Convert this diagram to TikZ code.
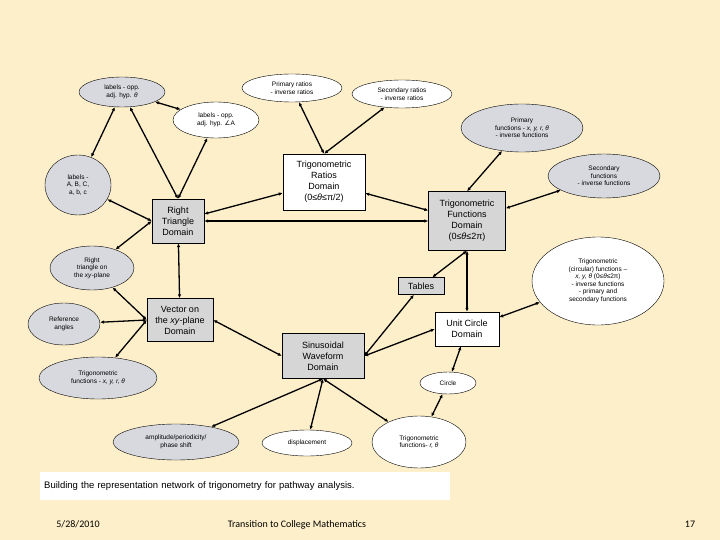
\documentclass[tikz,border=0pt]{standalone}
\usepackage{fontspec}
\setmainfont{Liberation Sans}
\newfontfamily\dvfont{DejaVu Sans}
\newfontfamily\footfont{Carlito}
\usetikzlibrary{shapes.geometric,arrows.meta}
\definecolor{bg}{HTML}{FDEFC9}
\definecolor{boxgray}{HTML}{D6D6D6}
\definecolor{ellgray}{HTML}{D8D9DE}
\begin{document}
\begin{tikzpicture}[x=1pt,y=-1pt,
  el/.style={ellipse,draw,fill=white,inner sep=0pt,align=center,font=\fontsize{6.5}{7.5}\selectfont},
  gel/.style={el,fill=ellgray},
  bx/.style={rectangle,draw,fill=white,inner sep=0pt,align=center,font=\fontsize{9}{11}\selectfont},
  gbx/.style={bx,fill=boxgray},
  foot/.style={anchor=base,font=\footfont\fontsize{10}{11}\selectfont},
  con/.style={line width=1.3pt,{Latex[length=4pt,width=3.5pt]}-{Latex[length=4pt,width=3.5pt]}}]
\fill[bg] (0,0) rectangle (720,540);
\useasboundingbox (0,0) rectangle (720,540);
% ellipses
\node[gel,minimum width=86,minimum height=30] (lt) at (122,92) {labels - opp.\\adj. hyp. \textit{θ}};
\node[el,minimum width=100,minimum height=28] (pr) at (292,88) {Primary ratios\\- inverse ratios};
\node[el,minimum width=100,minimum height=28] (sr) at (402,94) {Secondary ratios\\- inverse ratios};
\node[el,minimum width=86,minimum height=36] (la) at (216,120) {labels - opp.\\adj. hyp. {\dvfont ∠}A};
\node[gel,minimum width=122,minimum height=48] (pf) at (522,128) {Primary\\functions - \textit{x, y, r, θ}\\- inverse functions};
\node[gel,minimum width=112,minimum height=44] (sf) at (604,176) {Secondary\\functions\\- inverse functions};
\node[gel,minimum width=66,minimum height=60] (lb) at (78,185) {labels -\\A, B, C,\\a, b, c};
\node[gel,minimum width=84,minimum height=44] (rx) at (92,268) {Right\\triangle on\\the \textit{xy}-plane};
\node[el,minimum width=132,minimum height=88] (tc) at (598,281) {Trigonometric\\(circular) functions --\\\textit{x, y, θ} (0≤\textit{θ}≤2π)\\- inverse functions\\- primary and\\secondary functions};
\node[gel,minimum width=72,minimum height=42] (ra) at (64,324) {Reference\\angles};
\node[gel,minimum width=118,minimum height=42] (tx) at (98,378) {Trigonometric\\functions - \textit{x, y, r, θ}};
\node[el,minimum width=56,minimum height=22] (ci) at (448,383) {Circle};
\node[gel,minimum width=126,minimum height=36] (am) at (176,442) {amplitude/periodicity/\\phase shift};
\node[el,minimum width=90,minimum height=26] (di) at (307,443) {displacement};
\node[el,minimum width=94,minimum height=52] (tr) at (419,442) {Trigonometric\\functions- \textit{r, θ}};
% boxes
\node[bx,minimum width=82,minimum height=56] (trd) at (324,182) {Trigonometric\\Ratios\\Domain\\(0≤\textit{θ}≤π/2)};
\node[gbx,minimum width=52,minimum height=44] (rt) at (178,221) {Right\\Triangle\\Domain};
\node[gbx,minimum width=77,minimum height=59] (tfd) at (467,221) {Trigonometric\\Functions\\Domain\\(0≤\textit{θ}≤2π)};
\node[gbx,minimum width=46,minimum height=17] (tb) at (421,286) {Tables};
\node[gbx,minimum width=66,minimum height=43] (vx) at (180,320) {Vector on\\the \textit{xy}-plane\\Domain};
\node[bx,minimum width=64,minimum height=34] (uc) at (467,329) {Unit Circle\\Domain};
\node[gbx,minimum width=82,minimum height=45] (sw) at (323,356) {Sinusoidal\\Waveform\\Domain};
% connectors
\draw[con] (lt) -- (la);
\draw[con] (lt) -- (rt.north);
\draw[con] (lt) -- (lb);
\draw[con] (la) -- (rt.north);
\draw[con] (lb) -- (rt.west);
\draw[con] (rt) -- (trd);
\draw[con] (rt.east) -- (tfd.west |- rt.east);
\draw[con] (pr) -- (trd.north);
\draw[con] (sr) -- (trd.north);
\draw[con] (trd) -- (tfd);
\draw[con] (pf) -- (tfd.north);
\draw[con] (sf) -- (tfd);
\draw[con] (rt.west) -- (rx);
\draw[con] (rt) -- (vx);
\draw[con] (vx.west) -- (rx);
\draw[con] (vx.west) -- (ra);
\draw[con] (vx.west) -- (tx);
\draw[con] (vx.east) -- (sw.west);
\draw[con] (sw.east) -- (tb);
\draw[con] (sw.east) -- (uc.west);
\draw[con] (tfd.south) -- (tb);
\draw[con] (tfd.south) -- (uc.north);
\draw[con] (uc) -- (tc);
\draw[con] (uc) -- (ci);
\draw[con] (ci) -- (tr);
\draw[con] (sw.south) -- (am);
\draw[con] (sw.south) -- (di);
\draw[con] (sw.south) -- (tr);
% caption and footer
\node[fill=white,minimum width=410,minimum height=28,inner sep=4pt,anchor=north west,text width=402,font=\fontsize{9.5}{11}\selectfont] (cap) at (40,472) {Building the representation network of trigonometry for pathway analysis.};
\node[foot] (d) at (78,527) {5/28/2010};
\node[foot] (t) at (297,527) {Transition to College Mathematics};
\node[foot] (n) at (690,527) {17};
\end{tikzpicture}
\end{document}
